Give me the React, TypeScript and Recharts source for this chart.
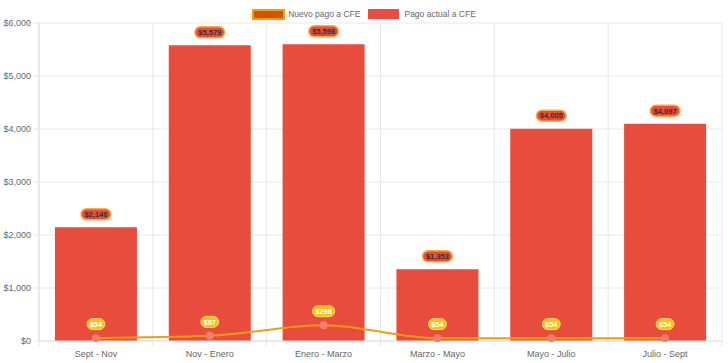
import React from "react";
import { ComposedChart, Bar, Line, XAxis, YAxis, CartesianGrid, Legend, LabelList } from "recharts";

const categories = ["Sept - Nov", "Nov - Enero", "Enero - Marzo", "Marzo - Mayo", "Mayo - Julio", "Julio - Sept"];
const pagoActual = [2146, 5579, 5598, 1353, 4005, 4097];
const nuevoPago = [54, 97, 298, 54, 54, 54];
const yTicks = [0, 1000, 2000, 3000, 4000, 5000, 6000];

const data = categories.map((c, i) => ({ name: c, actual: pagoActual[i], nuevo: nuevoPago[i] }));

const W = 728;
const H = 363;
const MARGIN = { top: 5, right: 6, left: 0, bottom: 0 };
const Y_W = 39;
const PLOT_W = W - MARGIN.left - MARGIN.right - Y_W;
const BAND = PLOT_W / categories.length;
const FONT = "Arial, 'Liberation Sans', sans-serif";
const TICK_SIZE = 6;
const TICK_MARGIN = 2;

const fmt = (v: number) => "$" + v.toLocaleString("en-US");

const XTick = (props: any) => {
  const { x, y, payload, index } = props;
  const axisY = y - TICK_SIZE - TICK_MARGIN;
  const left = x - BAND / 2;
  return (
    <g>
      <line x1={left} x2={left} y1={axisY} y2={axisY + 5} stroke="#e5e5e5" />
      {index === categories.length - 1 && (
        <line x1={x + BAND / 2} x2={x + BAND / 2} y1={axisY} y2={axisY + 5} stroke="#e5e5e5" />
      )}
      <text x={x} y={axisY + 16} textAnchor="middle" fontSize={9} fill="#666" fontFamily={FONT}>
        {payload.value}
      </text>
    </g>
  );
};

const BarLabel = (props: any) => {
  const { x, y, width, value } = props;
  const txt = fmt(value);
  const w = txt.length * 4.3 + 4;
  const cx = x + width / 2;
  const cy = y - 13;
  return (
    <g>
      <rect x={cx - w / 2} y={cy - 5.5} width={w} height={11} rx={5.5} ry={5.5} fill="#e74c3c" stroke="#f5b041" strokeWidth={1.5} />
      <text x={cx} y={cy + 2.7} textAnchor="middle" fontSize={7.5} fontWeight="bold" fill="#333" fontFamily={FONT}>
        {txt}
      </text>
    </g>
  );
};

const LineLabel = (props: any) => {
  const { x, y, value } = props;
  const txt = fmt(value);
  const w = txt.length * 4.3 + 5;
  const cy = y - 14;
  return (
    <g>
      <rect x={x - w / 2} y={cy - 5.5} width={w} height={11} rx={5.5} ry={5.5} fill="#f1c40f" stroke="#f7dc6f" strokeWidth={1} />
      <text x={x} y={cy + 2.7} textAnchor="middle" fontSize={7.5} fontWeight="bold" fill="#fff" fontFamily={FONT}>
        {txt}
      </text>
    </g>
  );
};

const LegendContent = () => (
  <div style={{ display: "flex", justifyContent: "center", alignItems: "center", fontFamily: FONT, fontSize: 8.5, color: "#666", height: 18, paddingLeft: 6 }}>
    <span style={{ display: "inline-block", width: 29, height: 7, background: "#d35400", border: "2px solid #f39c12", marginRight: 3 }} />
    <span style={{ marginRight: 8 }}>Nuevo pago a CFE</span>
    <span style={{ display: "inline-block", width: 31, height: 10, background: "#e74c3c", marginRight: 5 }} />
    <span>Pago actual a CFE</span>
  </div>
);

export default function App() {
  return (
    <div style={{ position: "absolute", left: 0, top: 0, width: W, height: H, background: "#fff" }}>
      <ComposedChart width={W} height={H} data={data} margin={MARGIN} barCategoryGap="14%">
        <CartesianGrid
          stroke="#e8e8e8"
          verticalCoordinatesGenerator={({ offset }: any) =>
            Array.from({ length: categories.length + 1 }, (_, i) => offset.left + (i * offset.width) / categories.length)
          }
        />
        <Legend verticalAlign="top" height={18} content={<LegendContent />} />
        <XAxis
          dataKey="name"
          height={22}
          tickLine={false}
          tickSize={TICK_SIZE}
          tickMargin={TICK_MARGIN}
          axisLine={{ stroke: "#e0e0e0" }}
          tick={<XTick />}
          interval={0}
        />
        <YAxis
          width={Y_W}
          domain={[0, 6000]}
          ticks={yTicks}
          tickFormatter={fmt}
          tickSize={5}
          tickMargin={3}
          tickLine={{ stroke: "#e5e5e5" }}
          axisLine={{ stroke: "#e0e0e0" }}
          tick={{ fontSize: 9, fill: "#666", fontFamily: FONT }}
        />
        <Bar dataKey="actual" fill="#e74c3c" isAnimationActive={false}>
          <LabelList dataKey="actual" content={<BarLabel />} />
        </Bar>
        <Line
          dataKey="nuevo"
          type="monotone"
          stroke="#f39c12"
          strokeWidth={2}
          dot={{ r: 4, fill: "#f0806a", stroke: "none" }}
          isAnimationActive={false}
        >
          <LabelList dataKey="nuevo" content={<LineLabel />} />
        </Line>
      </ComposedChart>
    </div>
  );
}
